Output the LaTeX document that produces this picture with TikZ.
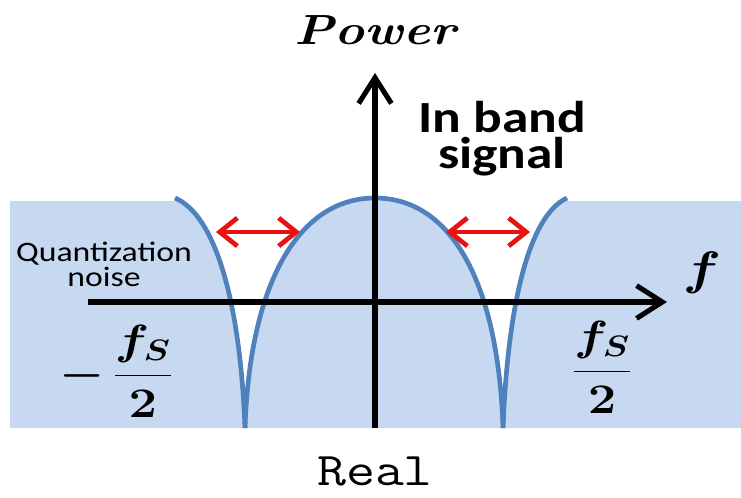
\documentclass[tikz,border=0pt]{standalone}
\usepackage{fix-cm}
\usepackage{amsmath,bm}
\usepackage{fontspec}
\usetikzlibrary{arrows.meta}
\newfontfamily\calfont{Carlito}
\definecolor{noiseBlue}{RGB}{198,217,240}
\definecolor{curveBlue}{RGB}{79,129,189}
\definecolor{gapRed}{RGB}{232,18,18}

\begin{document}
\begin{tikzpicture}[x=0.03cm,y=-0.03cm,
    axis/.style={line width=4.3pt,-{Straight Barb[length=22pt,width=28pt]}},
    gap/.style={gapRed,line width=4pt,
      {Straight Barb[length=15pt,width=24pt]}-{Straight Barb[length=15pt,width=24pt]}},
    curve/.style={curveBlue,line width=4pt},
    lbl/.style={inner sep=0pt,xscale=1.2}]
  \useasboundingbox (0,0) rectangle (741,497);
  % noise floor with the shaped notches
  \fill[noiseBlue] (10,428) -- (10,201) -- (175,201) -- (175,198)
    .. controls (215,215) and (240,300) .. (245,428)
    .. controls (250,280) and (300,198) .. (375,198)
    .. controls (450,198) and (498,280) .. (503,428)
    .. controls (508,300) and (530,215) .. (567,198)
    -- (567,201) -- (741,201) -- (741,428) -- cycle;
  % spectrum curves
  \draw[curve] (175,198) .. controls (215,215) and (240,300) .. (245,428);
  \draw[curve] (245,428) .. controls (250,280) and (300,198) .. (375,198)
    .. controls (450,198) and (498,280) .. (503,428);
  \draw[curve] (503,428) .. controls (508,300) and (530,215) .. (567,198);
  % axes
  \coordinate (xl) at (88,302);
  \coordinate (xr) at (667,302);
  \coordinate (yb) at (375,428);
  \coordinate (yt) at (375,73);
  \draw[axis] (xl) -- (xr);
  \draw[axis] (yb) -- (yt);
  % band gaps
  \coordinate (gl1) at (216,232);
  \coordinate (gl2) at (300,232);
  \coordinate (gr1) at (446,232);
  \coordinate (gr2) at (530,232);
  \draw[gap] (gl1) -- (gl2);
  \draw[gap] (gr1) -- (gr2);
  % labels
  \node[lbl,anchor=base] (power) at (375,44)
    {\fontsize{36}{40}\selectfont\bfseries\itshape\addfontfeature{LetterSpace=18}Power};
  \node[lbl,anchor=north,align=center,
    font=\calfont\bfseries\fontsize{38}{30.6}\selectfont] (inband) at (502,101)
    {In band\\signal};
  \node[lbl,anchor=north,align=center,
    font=\calfont\fontsize{24}{21.3}\selectfont] (quant) at (104,242)
    {Quantization\\noise};
  \node[lbl] (freq) at (702,273) {\fontsize{40}{44}\selectfont$\bm{f}$};
  \node[lbl,anchor=base] (fsr) at (602,382)
    {\fontsize{36}{40}\selectfont$\bm{\dfrac{f_S}{2}}$};
  \node[lbl,anchor=base] (fsl) at (116,386)
    {\fontsize{36}{40}\selectfont$\bm{-\,\dfrac{f_S}{2}}$};
  \node[lbl,anchor=base] (real) at (375,485)
    {\ttfamily\fontsize{40}{44}\selectfont Real};
\end{tikzpicture}
\end{document}
